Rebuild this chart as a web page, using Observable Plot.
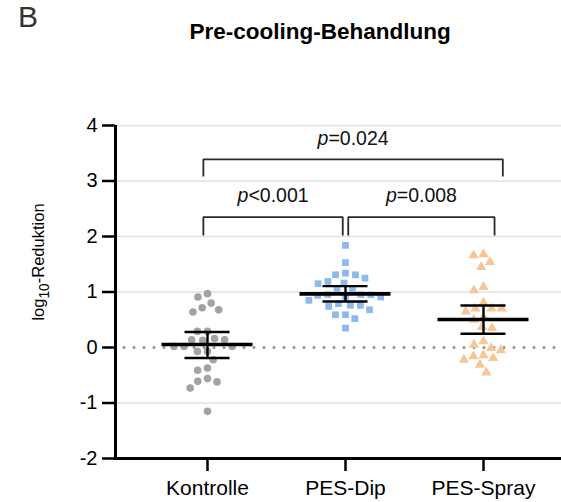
<!DOCTYPE html>
<html><head><meta charset="utf-8">
<script src="https://cdn.jsdelivr.net/npm/d3@7"></script>
<script src="https://cdn.jsdelivr.net/npm/@observablehq/plot@0.6"></script>
<style>
body{margin:0;background:#fff;}
#wrap{position:relative;width:561px;height:502px;overflow:hidden;font-family:"Liberation Sans",Arial,sans-serif;}
#wrap svg{position:absolute;left:0;top:0;}
.lbl{position:absolute;white-space:nowrap;line-height:1;z-index:2;}
</style></head><body>
<div id="wrap">
 <div class="lbl" style="left:18px;top:2px;font-size:30px;color:#333">B</div>
 <div class="lbl" style="left:320px;top:21px;font-size:22.5px;font-weight:bold;color:#000;transform:translateX(-50%)">Pre-cooling-Behandlung</div>
 <div class="lbl" style="left:41px;top:262px;font-size:16.5px;color:#000;transform:translate(-50%,-50%) rotate(-90deg)">log<sub>10</sub>-Reduktion</div>
</div>
<script>
// ---- data ----
const groups = ["Kontrolle", "PES-Dip", "PES-Spray"];
const kontrolle = [0.97, 0.91, 0.80, 0.715, 0.68, 0.64, 0.29, 0.29, 0.16, 0.14, 0.14, 0.13, 0.02, 0.02, 0.02, -0.07, -0.07, -0.22, -0.37, -0.41, -0.56, -0.61, -0.62, -0.73, -1.15];
const pesDip = [1.84, 1.53, 1.34, 1.31, 1.31, 1.25, 1.19, 1.16, 1.15, 1.06, 1.03, 0.955, 0.955, 0.95, 0.94, 0.92, 0.91, 0.85, 0.79, 0.76, 0.76, 0.74, 0.68, 0.59, 0.59, 0.52, 0.35];
const pesSpray = [1.68, 1.66, 1.54, 1.45, 1.09, 1.03, 0.81, 0.70, 0.70, 0.70, 0.65, 0.55, 0.50, 0.37, 0.35, 0.11, 0.05, -0.01, -0.05, -0.14, -0.16, -0.19, -0.22, -0.31, -0.45];
const meanVals = [0.054, 0.967, 0.505];
const ciLow = [-0.19, 0.829, 0.247];
const ciHigh = [0.28, 1.105, 0.757];
const yTicks = [-2, -1, 0, 1, 2, 3, 4];
// comparison brackets (ends in group-index units, levels in y units)
const bracketLabel = ["p=0.024", "p<0.001", "p=0.008"];
const bracketX1 = [-0.03, -0.03, 1.02];
const bracketX2 = [2.14, 0.98, 2.08];
const bracketY = [3.39, 2.35, 2.35];
const bracketLow = [3.08, 2.02, 2.02];
const labelY = [3.76, 2.74, 2.74];

// ---- layout / style ----
const W = 561, H = 502, AX = 115, F0 = 138, BW = 138;
const colors = ["#a3a3a3", "#8db9ef", "#f6c698"];
const font = '"Liberation Sans", Arial, sans-serif';

const series = [kontrolle, pesDip, pesSpray];
const points = series.flatMap((vals, i) => vals.map(v => ({group: groups[i], value: v})));
const stats = groups.map((g, i) => ({group: g, mean: meanVals[i], lo: ciLow[i], hi: ciHigh[i]}));
const brackets = bracketLabel.map((t, i) => ({group: groups[0], x1: bracketX1[i], x2: bracketX2[i], y: bracketY[i], yb: bracketLow[i], label: t, ly: labelY[i]}));
const bracketPath = brackets.flatMap((b, i) => [
  {id: i, group: b.group, x: b.x1, y: b.yb},
  {id: i, group: b.group, x: b.x1, y: b.y},
  {id: i, group: b.group, x: b.x2, y: b.y},
  {id: i, group: b.group, x: b.x2, y: b.yb}
]);
const gridVals = yTicks.filter(v => v !== 0 && v !== yTicks[0]);
const first = () => groups[0];
const spanRight = -(W - F0 - BW);

const plot = Plot.plot({
  width: W, height: H,
  marginLeft: F0, marginRight: W - F0 - 3 * BW, marginTop: 125, marginBottom: 44,
  style: {fontFamily: font, fontSize: "20px", background: "transparent", color: "#000", overflow: "visible"},
  fx: {domain: groups, padding: 0, label: null},
  x: {domain: [-0.5, 0.5], axis: null},
  y: {domain: [-2, 4], label: null},
  symbol: {domain: groups, range: ["circle", "square", "triangle"]},
  color: {domain: groups, range: colors},
  marks: [
    Plot.ruleY(gridVals, {fx: first, stroke: "#e2e2e2", strokeWidth: 1.3, insetLeft: -(F0 - AX), insetRight: spanRight}),
    Plot.ruleY([0], {fx: first, stroke: "#8f8f8f", strokeWidth: 3, strokeDasharray: "0,10", strokeLinecap: "round", insetLeft: -(F0 - AX) + 9, insetRight: spanRight}),
    Plot.dot(points, Plot.dodgeX({anchor: "middle", padding: 2.5}, {fx: "group", y: "value", r: 3.8, symbol: "group", fill: "group"})),
    Plot.ruleY(stats, {fx: "group", y: "mean", insetLeft: 23.5, insetRight: 23.5, strokeWidth: 3.6, stroke: "#000"}),
    Plot.ruleY(stats, {fx: "group", y: "lo", insetLeft: 46.5, insetRight: 46.5, strokeWidth: 2.4, stroke: "#000"}),
    Plot.ruleY(stats, {fx: "group", y: "hi", insetLeft: 46.5, insetRight: 46.5, strokeWidth: 2.4, stroke: "#000"}),
    Plot.ruleX(stats, {fx: "group", x: () => 0, y1: "lo", y2: "hi", strokeWidth: 2.4, stroke: "#000"}),
    Plot.ruleX([0], {fx: first, x: () => -0.5, dx: -(F0 - AX), y1: () => yTicks[0], y2: () => yTicks[yTicks.length - 1], strokeWidth: 3, stroke: "#000"}),
    Plot.ruleY([yTicks[0]], {fx: first, insetLeft: -(F0 - AX) - 1.5, insetRight: spanRight, strokeWidth: 3, stroke: "#000"}),
    Plot.axisY(yTicks, {anchor: "left", dx: -(F0 - AX), tickSize: 13, tickPadding: 5, strokeWidth: 2.5, fontSize: 20, tickFormat: d => String(d), label: null, fill: "#000", stroke: "#000"}),
    Plot.axisFx({anchor: "bottom", tickSize: 13, tickPadding: 9, strokeWidth: 2.5, fontSize: 21, label: null, fill: "#000", stroke: "#000"}),
    Plot.line(bracketPath, {fx: "group", x: "x", y: "y", z: "id", stroke: "#2a2a2a", strokeWidth: 1.8, strokeLinejoin: "miter", strokeLinecap: "butt"}),
    Plot.text(brackets, {fx: "group", x: d => (d.x1 + d.x2) / 2, y: "ly", text: "label", fontSize: 19.5, fill: "#111"})
  ]
});

// italic "p" in the comparison labels
plot.querySelectorAll("text").forEach(t => {
  const s = t.textContent;
  if (/^p[=<]/.test(s)) {
    const ns = "http://www.w3.org/2000/svg";
    t.textContent = "";
    const a = document.createElementNS(ns, "tspan");
    a.setAttribute("font-style", "italic");
    a.textContent = "p";
    const b = document.createElementNS(ns, "tspan");
    b.textContent = s.slice(1);
    t.append(a, b);
  }
});
document.getElementById("wrap").prepend(plot);
</script>
</body></html>
